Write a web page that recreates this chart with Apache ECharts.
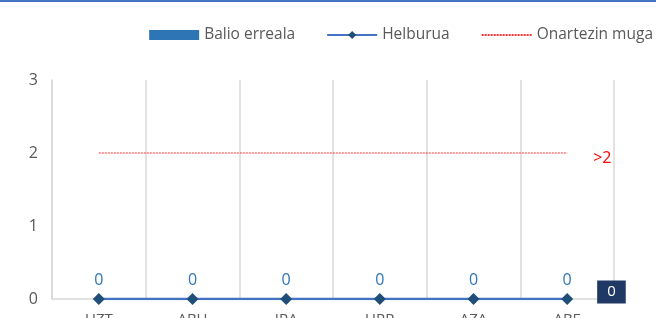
<!DOCTYPE html>
<html>
<head>
<meta charset="utf-8">
<script src="https://cdn.jsdelivr.net/npm/echarts@6/dist/echarts.min.js"></script>
<style>
  html, body { margin: 0; padding: 0; background: #fff; overflow: hidden; }
  #chart { width: 656px; height: 318px; }
</style>
</head>
<body>
<div id="chart"></div>
<script>
// hilabeteak
const categories = ["UZT", "ABU", "IRA", "URR", "AZA", "ABE"];
const actualValues = [0, 0, 0, 0, 0, 0];
const targetValues = [0, 0, 0, 0, 0, 0];
const limitValues = [2, 2, 2, 2, 2, 2];
const yTicks = { min: 0, max: 3, interval: 1 };

const font = "Open Sans";
const chart = echarts.init(document.getElementById("chart"));

chart.setOption({
  animation: false,
  textStyle: { fontFamily: font },
  graphic: [
    {
      type: "rect",
      left: 0,
      top: 0,
      shape: { width: 656, height: 2 },
      style: { fill: "#4472C4" },
    },
  ],
  legend: {
    right: -2,
    top: 22,
    itemWidth: 50,
    itemHeight: 10,
    itemGap: 31,
    textStyle: { fontFamily: font, fontSize: 15.5, color: "#595959" },
    data: [
      { name: "Balio erreala", icon: "rect" },
      { name: "Helburua" },
      { name: "Onartezin muga", itemStyle: { opacity: 0 } },
    ],
  },
  grid: {
    left: 52,
    right: 42,
    top: 80,
    bottom: 19,
    containLabel: false,
    outerBoundsMode: "none",
  },
  xAxis: {
    type: "category",
    data: categories,
    boundaryGap: true,
    axisLine: { show: true, lineStyle: { color: "#d9d9d9", width: 1.5 } },
    axisTick: { show: false },
    splitLine: { show: true, lineStyle: { color: "#d9d9d9", width: 1.5 } },
    axisLabel: { margin: 13, fontSize: 15, color: "#595959", fontFamily: font },
  },
  yAxis: {
    type: "value",
    min: yTicks.min,
    max: yTicks.max,
    interval: yTicks.interval,
    axisLine: { show: true, lineStyle: { color: "#d9d9d9", width: 1.5 } },
    axisTick: { show: false },
    splitLine: { show: false },
    axisLabel: { margin: 14, fontSize: 16, color: "#595959", fontFamily: font },
  },
  series: [
    {
      name: "Balio erreala",
      type: "bar",
      barWidth: "40%",
      itemStyle: { color: "#2E75B6" },
      data: actualValues,
    },
    {
      name: "Helburua",
      type: "line",
      symbol: "diamond",
      symbolSize: 12,
      lineStyle: { color: "#4472C4", width: 2.5 },
      itemStyle: { color: "#1F4E79" },
      label: {
        show: true,
        position: "top",
        distance: 5,
        fontSize: 16,
        color: "#2E75B6",
        fontFamily: font,
      },
      endLabel: {
        show: true,
        formatter: "0",
        distance: 30,
        offset: [0, -7],
        backgroundColor: "#1F3864",
        color: "#ffffff",
        fontSize: 15,
        fontFamily: font,
        padding: [4, 10],
      },
      data: targetValues,
      z: 3,
    },
    {
      name: "Onartezin muga",
      type: "line",
      symbol: "circle",
      showSymbol: false,
      lineStyle: { color: "#FF3333", width: 1.2, type: [2, 1] },
      itemStyle: { color: "#FF0000" },
      endLabel: {
        show: true,
        formatter: ">2",
        distance: 26,
        offset: [0, 5],
        color: "#FF0000",
        fontSize: 16,
        fontFamily: font,
      },
      data: limitValues,
    },
  ],
});
</script>
</body>
</html>
